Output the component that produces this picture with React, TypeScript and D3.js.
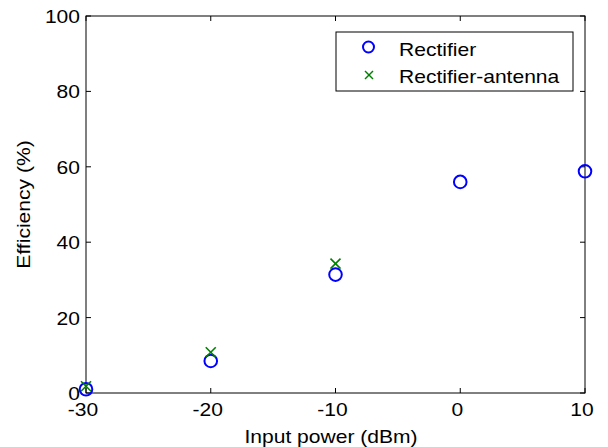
import React from "react";
import * as d3 from "d3";

const xTicks = [-30, -20, -10, 0, 10];
const yTicks = [0, 20, 40, 60, 80, 100];
const rectX = [-30, -20, -10, 0, 10];
const rectY = [1.0, 8.5, 31.4, 56.0, 58.8];
const antX = [-30, -20, -10];
const antY = [1.8, 10.8, 34.3];

const W = 608, H = 447;
const L = 86, R = 585, T = 16, B = 393;
const font = "'Liberation Sans', Arial, sans-serif";
const SX = 1.17;

function Txt({ x, y, anchor = "start", rotate = 0, children }: any) {
  return (
    <text
      transform={`translate(${x},${y}) rotate(${rotate}) scale(${SX},1)`}
      textAnchor={anchor}
      fontFamily={font}
      fontSize={18}
      fill="#000"
    >
      {children}
    </text>
  );
}

export default function App() {
  const x = d3.scaleLinear().domain([-30, 10]).range([L, R]);
  const y = d3.scaleLinear().domain([0, 100]).range([B, T]);
  const tl = 5;
  return (
    <svg width={W} height={H} style={{ position: "absolute", left: 0, top: 0 }}>
      <rect x={0} y={0} width={W} height={H} fill="white" />
      {xTicks.map((t) => (
        <g key={"x" + t}>
          <line x1={x(t)} x2={x(t)} y1={B} y2={B - tl} stroke="#000" />
          <line x1={x(t)} x2={x(t)} y1={T} y2={T + tl} stroke="#000" />
          <Txt x={x(t) - 3} y={B + 23} anchor="middle">{t}</Txt>
        </g>
      ))}
      {yTicks.map((t) => (
        <g key={"y" + t}>
          <line x1={L} x2={L + tl} y1={y(t)} y2={y(t)} stroke="#000" />
          <line x1={R} x2={R - tl} y1={y(t)} y2={y(t)} stroke="#000" />
          <Txt x={L - 6} y={y(t) + 7} anchor="end">{t}</Txt>
        </g>
      ))}
      <rect x={L} y={T} width={R - L} height={B - T} fill="none" stroke="#000" strokeWidth={1} />
      <Txt x={331} y={443} anchor="middle">Input power (dBm)</Txt>
      <Txt x={30} y={(T + B) / 2} anchor="middle" rotate={-90}>Efficiency (%)</Txt>
      {rectX.map((v, i) => (
        <circle key={"r" + i} cx={x(v)} cy={y(rectY[i])} r={6.3} fill="none" stroke="#0000ff" strokeWidth={2} />
      ))}
      {antX.map((v, i) => {
        const cx = x(v), cy = y(antY[i]), s = 5;
        return (
          <g key={"a" + i} stroke="#008000" strokeWidth={1.6}>
            <line x1={cx - s} y1={cy - s} x2={cx + s} y2={cy + s} />
            <line x1={cx - s} y1={cy + s} x2={cx + s} y2={cy - s} />
          </g>
        );
      })}
      <rect x={336} y={32} width={237} height={59} fill="white" stroke="#000" />
      <circle cx={368.5} cy={47} r={5.5} fill="none" stroke="#0000ff" strokeWidth={2} />
      <Txt x={399} y={55.5}>Rectifier</Txt>
      <g stroke="#008000" strokeWidth={1.5}>
        <line x1={365} y1={71} x2={373} y2={79} />
        <line x1={365} y1={79} x2={373} y2={71} />
      </g>
      <Txt x={399} y={83}>Rectifier-antenna</Txt>
    </svg>
  );
}
